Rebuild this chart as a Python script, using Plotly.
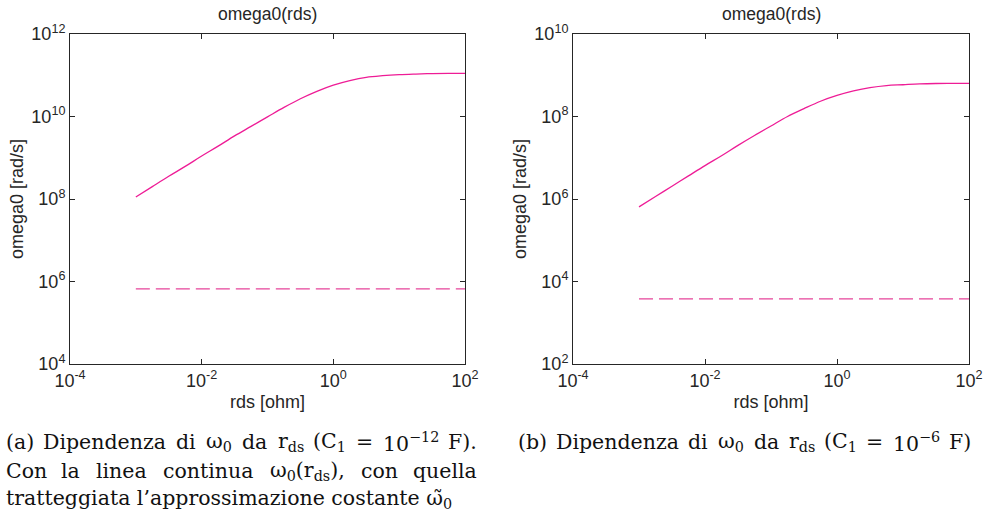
import re
import plotly.graph_objects as go

# ---- data -------------------------------------------------------------
rds = [1.0e-3, 1.78e-3, 3.16e-3, 5.62e-3,
       1.0e-2, 1.78e-2, 3.16e-2, 5.62e-2,
       1.0e-1, 1.78e-1, 3.16e-1, 5.62e-1,
       1.0, 1.78, 3.16, 5.62,
       10.0, 17.8, 31.6, 56.2, 100.0]

# C1 = 1e-12 F
omega0_c12 = [1.12e8, 2.0e8, 3.55e8, 6.17e8,
              1.10e9, 1.91e9, 3.39e9, 5.75e9,
              9.77e9, 1.66e10, 2.69e10, 4.07e10,
              5.75e10, 7.41e10, 8.91e10, 9.77e10,
              1.035e11, 1.07e11, 1.096e11, 1.109e11, 1.114e11]
omega0_tilde_c12 = [6.6e5, 6.6e5]

# C1 = 1e-6 F
omega0_c6 = [6.46e5, 1.15e6, 2.04e6, 3.63e6,
             6.46e6, 1.12e7, 2.0e7, 3.47e7,
             5.89e7, 1.0e8, 1.55e8, 2.34e8,
             3.24e8, 4.17e8, 5.01e8, 5.62e8,
             5.89e8, 6.17e8, 6.31e8, 6.35e8, 6.38e8]
omega0_tilde_c6 = [3.8e3, 3.8e3]

rds_span = [rds[0], rds[-1]]

x_tickvals = [1e-4, 1e-2, 1e0, 1e2]
x_ticktext = ["10<sup>-4</sup>", "10<sup>-2</sup>", "10<sup>0</sup>", "10<sup>2</sup>"]
y1_tickvals = [1e4, 1e6, 1e8, 1e10, 1e12]
y1_ticktext = ["10<sup>4</sup>", "10<sup>6</sup>", "10<sup>8</sup>", "10<sup>10</sup>", "10<sup>12</sup>"]
y2_tickvals = [1e2, 1e4, 1e6, 1e8, 1e10]
y2_ticktext = ["10<sup>2</sup>", "10<sup>4</sup>", "10<sup>6</sup>", "10<sup>8</sup>", "10<sup>10</sup>"]

# ---- styling ----------------------------------------------------------
W, H = 985, 516
SOLID = "#ee1c96"
DASHED = "#e6449a"
INK = "#262626"
SANS = "Liberation Sans, Arial, sans-serif"
SERIF = "DejaVu Serif, serif"

fig = go.Figure()
fig.add_trace(go.Scatter(x=rds, y=omega0_c12, mode="lines", line=dict(color=SOLID, width=1.3, shape="spline"),
                         xaxis="x", yaxis="y", showlegend=False))
fig.add_trace(go.Scatter(x=rds_span, y=omega0_tilde_c12, mode="lines",
                         line=dict(color=DASHED, width=1.3, dash="14px,6px"),
                         xaxis="x", yaxis="y", showlegend=False))
fig.add_trace(go.Scatter(x=rds, y=omega0_c6, mode="lines", line=dict(color=SOLID, width=1.3, shape="spline"),
                         xaxis="x2", yaxis="y2", showlegend=False))
fig.add_trace(go.Scatter(x=rds_span, y=omega0_tilde_c6, mode="lines",
                         line=dict(color=DASHED, width=1.3, dash="14px,6px"),
                         xaxis="x2", yaxis="y2", showlegend=False))


def axis(**kw):
    base = dict(type="log", showline=True, linecolor=INK, linewidth=1, mirror="ticks",
                ticks="inside", ticklen=5, tickcolor=INK, showgrid=False, zeroline=False,
                automargin=False, tickfont=dict(family=SANS, size=18, color=INK), fixedrange=True)
    base.update(kw)
    return base


px_x = lambda p: p / W
px_y = lambda p: 1 - p / H
y_dom = [px_y(364), px_y(34)]
title_font = dict(family=SANS, size=18, color=INK)

fig.update_layout(
    width=W, height=H, autosize=False,
    margin=dict(l=0, r=0, t=0, b=0, autoexpand=False),
    paper_bgcolor="white", plot_bgcolor="white",
    xaxis=axis(domain=[px_x(70), px_x(465)], range=[-4, 2], anchor="y",
               tickvals=x_tickvals, ticktext=x_ticktext,
               title=dict(text="rds [ohm]", font=title_font, standoff=5)),
    yaxis=axis(domain=y_dom, range=[4, 12], anchor="x",
               tickvals=y1_tickvals, ticktext=y1_ticktext,
               title=dict(text="omega0 [rad/s]", font=title_font, standoff=3)),
    xaxis2=axis(domain=[px_x(573), px_x(969)], range=[-4, 2], anchor="y2",
                tickvals=x_tickvals, ticktext=x_ticktext,
                title=dict(text="rds [ohm]", font=title_font, standoff=5)),
    yaxis2=axis(domain=y_dom, range=[2, 10], anchor="x2",
                tickvals=y2_tickvals, ticktext=y2_ticktext,
                title=dict(text="omega0 [rad/s]", font=title_font, standoff=3)),
)

annotations = []
for cx in (267.5, 771):
    annotations.append(dict(text="omega0(rds)", x=px_x(cx), y=px_y(14), xref="paper", yref="paper",
                            xanchor="center", yanchor="middle", showarrow=False,
                            font=dict(family=SANS, size=17.5, color=INK)))

# ---- captions (justified word by word) --------------------------------
CAP_SIZE = 20.5
GLYPH_EM = {"(": 0.390, ")": 0.390, "a": 0.596, "b": 0.640, "c": 0.560, "d": 0.640, "e": 0.592,
            "i": 0.320, "l": 0.320, "n": 0.644, "o": 0.602, "p": 0.640, "q": 0.640, "r": 0.478,
            "s": 0.513, "t": 0.402, "u": 0.644, "z": 0.525, "C": 0.715, "D": 0.771, "F": 0.673,
            ",": 0.318, ".": 0.318, "=": 0.838, "\u2212": 0.838, "-": 0.338, "\u03c9": 0.83}


def word_width(word):
    total = 0.0
    for part in re.split(r"(<su[bp]>.*?</su[bp]>)", word):
        scale = 0.7 if part.startswith("<su") else 1.0
        plain = re.sub(r"<[^>]+>", "", part)
        for ch in plain:
            total += GLYPH_EM.get(ch, 0.636 if ch.isdigit() else 0.6) * scale
    return total * CAP_SIZE


def justified(words, left, right, baseline):
    widths = [word_width(w) for w in words]
    gap = (right - left - sum(widths)) / (len(words) - 1)
    x = left
    out = []
    for i, (w, wd) in enumerate(zip(words, widths)):
        if i == 0:
            xa, xp = "left", left
        elif i == len(words) - 1:
            xa, xp = "right", right
        else:
            xa, xp = "center", x + wd / 2
        out.append(dict(text=w, x=px_x(xp), y=px_y(baseline - 6), xref="paper", yref="paper",
                        xanchor=xa, yanchor="middle", showarrow=False, borderpad=0,
                        font=dict(family=SERIF, size=CAP_SIZE, color="#111111")))
        x += wd + gap
    return out


cap_a1 = ["(a)", "Dipendenza", "di", "\u03c9<sub>0</sub>", "da", "r<sub>ds</sub>", "(C<sub>1</sub>", "=",
          "10<sup>\u221212</sup>", "F)."]
cap_a2 = ["Con", "la", "linea", "continua", "\u03c9<sub>0</sub>(r<sub>ds</sub>),", "con", "quella"]
cap_a3 = "tratteggiata l\u2019approssimazione costante \u03c9\u0303<sub>0</sub>"
cap_b1 = ["(b)", "Dipendenza", "di", "\u03c9<sub>0</sub>", "da", "r<sub>ds</sub>", "(C<sub>1</sub>", "=",
          "10<sup>\u22126</sup>", "F)"]

annotations += justified(cap_a1, 5, 478, 448)
annotations += justified(cap_a2, 5, 478, 477)
annotations.append(dict(text=cap_a3, x=px_x(5), y=px_y(505 - 6), xref="paper", yref="paper",
                        xanchor="left", yanchor="middle", showarrow=False, borderpad=0,
                        font=dict(family=SERIF, size=CAP_SIZE, color="#111111")))
annotations += justified(cap_b1, 517, 972, 448)

fig.update_layout(annotations=annotations)
fig.write_html("out.html")
